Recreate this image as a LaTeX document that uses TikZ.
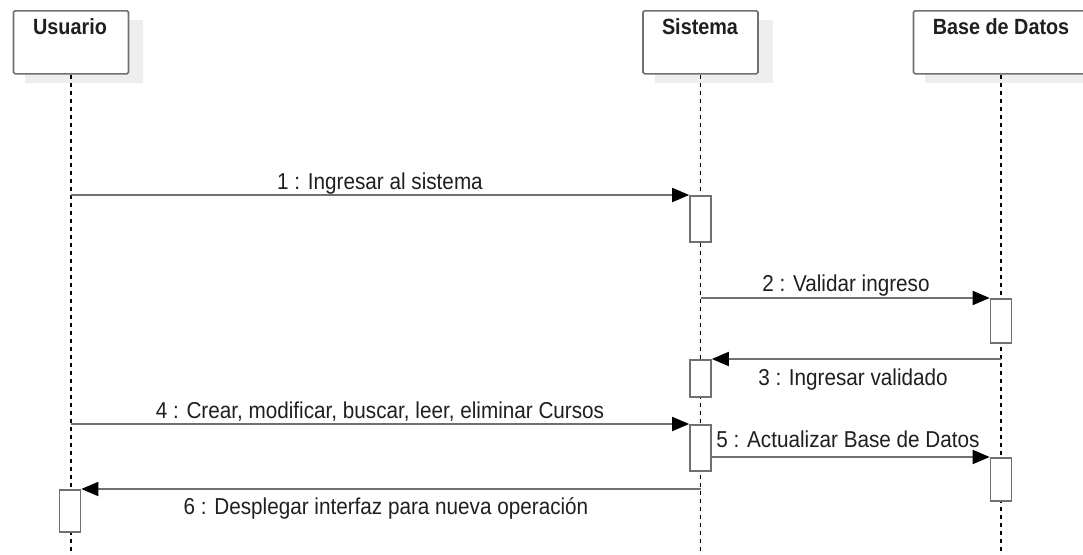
\documentclass[tikz,border=0pt]{standalone}
\usepackage{fontspec}
\setmainfont{Liberation Sans}[FakeStretch=0.9]
\usetikzlibrary{arrows.meta}
\definecolor{linegray}{HTML}{707070}
\definecolor{shadowgray}{HTML}{EEEEEE}
\begin{document}
\begin{tikzpicture}[x=1pt,y=-1pt,
  actorbox/.style={draw=linegray, line width=1.6pt, rounded corners=1.5pt, fill=white, minimum height=63pt, inner sep=0pt, anchor=north},
  actorshadow/.style={fill=shadowgray, minimum height=63pt, inner sep=0pt, anchor=north},
  actortitle/.style={font=\fontsize{22}{26}\selectfont\bfseries, text=black!88, inner sep=0pt, anchor=base},
  lifeline/.style={draw=black, line width=1.2pt, dash pattern=on 4.5pt off 3.5pt},
  actbox/.style={draw=linegray, line width=1.6pt, fill=white, minimum width=21pt, inner sep=0pt, anchor=north},
  msg/.style={draw=linegray, line width=1.8pt, -{Triangle[length=17pt,width=14pt,color=black,fill=black]}},
  msglabel/.style={font=\fontsize{23}{27}\selectfont, text=black!88, inner sep=0pt, anchor=base}
]
\useasboundingbox (0,0) rectangle (1083,554);
\clip (0,0) rectangle (1083,554);

% shadows
\node[actorshadow, minimum width=118pt] (usuarioSh) at (84,20) {};
\node[actorshadow, minimum width=118pt] (sistemaSh) at (713.5,20) {};
\node[actorshadow, minimum width=178pt] (baseSh) at (1014,20) {};

% actor boxes
\node[actorbox, minimum width=115pt] (usuario) at (71,10) {};
\node[actorbox, minimum width=115pt] (sistema) at (700.5,10) {};
\node[actorbox, minimum width=175pt] (base) at (1001,10) {};
\node[actortitle] (usuarioT) at (70,34.5) {Usuario};
\node[actortitle] (sistemaT) at (700,34.5) {Sistema};
\node[actortitle] (baseT) at (1001,34.5) {Base de Datos};

% lifeline ends
\coordinate (usuarioEnd) at (71,556);
\coordinate (sistemaEnd) at (700.5,556);
\coordinate (baseEnd) at (1001,556);
\draw[lifeline] (usuario.south) -- (usuarioEnd);
\draw[lifeline] (sistema.south) -- (sistemaEnd);
\draw[lifeline] (base.south) -- (baseEnd);

% activation boxes
\node[actbox, minimum height=46pt] (aS1) at (700.5,195) {};
\node[actbox, minimum height=44pt] (aB1) at (1001,298) {};
\node[actbox, minimum height=37pt] (aS2) at (700.5,359) {};
\node[actbox, minimum height=46pt] (aS3) at (700.5,424) {};
\node[actbox, minimum height=43pt] (aB2) at (1001,457) {};
\node[actbox, minimum height=42pt] (aU1) at (70,489) {};

% message start points on lifelines
\coordinate (m1s) at (71,195);
\coordinate (m2s) at (700.5,298);
\coordinate (m3s) at (1001,359);
\coordinate (m4s) at (71,424);
\coordinate (m6s) at (700.5,489);

% messages
\draw[msg] (m1s) -- (aS1.north west);
\draw[msg] (m2s) -- (aB1.north west);
\draw[msg] (m3s) -- (aS2.north east);
\draw[msg] (m4s) -- (aS3.north west);
\draw[msg] (aS3.east |- aB2.north west) -- (aB2.north west);
\draw[msg] (m6s) -- (aU1.north east);

% labels
\node[msglabel] (l1) at (380,189) {1 : Ingresar al sistema};
\node[msglabel] (l2) at (846,291) {2 : Validar ingreso};
\node[msglabel] (l3) at (853,385) {3 : Ingresar validado};
\node[msglabel] (l4) at (380,418) {4 : Crear, modificar, buscar, leer, eliminar Cursos};
\node[msglabel] (l5) at (848,447) {5 : Actualizar Base de Datos};
\node[msglabel] (l6) at (386,514) {6 : Desplegar interfaz para nueva operación};
\end{tikzpicture}
\end{document}
